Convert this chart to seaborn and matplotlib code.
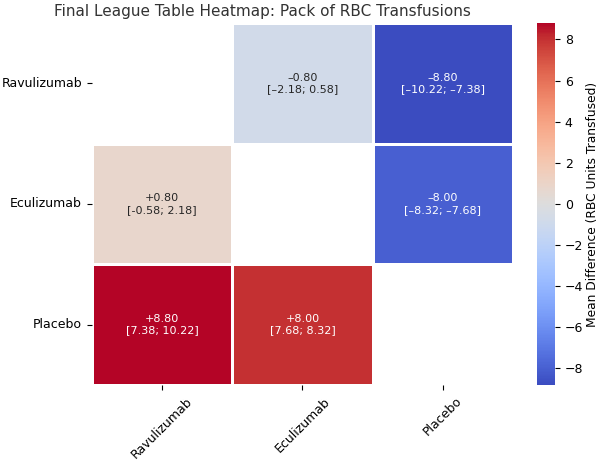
import numpy as np
import pandas as pd
import seaborn as sns
import matplotlib.pyplot as plt

# league table data (row treatment vs column treatment)
treatments = ["Ravulizumab", "Eculizumab", "Placebo"]
mean_diff = [[np.nan, -0.80, -8.80],
             [0.80, np.nan, -8.00],
             [8.80, 8.00, np.nan]]
cell_text = [["", "\u20130.80\n[\u20132.18; 0.58]", "\u20138.80\n[\u201310.22; \u20137.38]"],
             ["+0.80\n[-0.58; 2.18]", "", "\u20138.00\n[\u20138.32; \u20137.68]"],
             ["+8.80\n[7.38; 10.22]", "+8.00\n[7.68; 8.32]", ""]]
cbar_ticks = [-8, -6, -4, -2, 0, 2, 4, 6, 8]

df = pd.DataFrame(mean_diff, index=treatments, columns=treatments)
annot_df = pd.DataFrame(cell_text, index=treatments, columns=treatments)

fig = plt.figure(figsize=(6, 4.61), dpi=100)
ax = fig.add_axes([0.153, 0.165, 0.702, 0.785])
cax = fig.add_axes([0.895, 0.165, 0.03, 0.785])
sns.heatmap(df,
            annot=annot_df,
            fmt="",
            cmap="coolwarm",
            vmin=-8.8, vmax=8.8,
            center=0,
            linewidths=0.8,
            linecolor="white",
            annot_kws={"fontsize": 8},
            cbar_ax=cax,
            ax=ax)
fig.text(0.438, 0.974, "Final League Table Heatmap: Pack of RBC Transfusions",
         fontsize=11, color="#333333", ha="center", va="center")
ax.set_xlabel("")
ax.set_ylabel("")
ax.tick_params(axis="x", labelrotation=45, labelsize=9)
ax.tick_params(axis="y", labelrotation=0, labelsize=9)

cbar = ax.collections[0].colorbar
cbar.set_ticks(cbar_ticks)
cbar.ax.tick_params(labelsize=9)
cbar.outline.set_visible(False)
cbar.set_label("Mean Difference (RBC Units Transfused)", fontsize=8.8, labelpad=2)

plt.savefig("out.png", dpi=100)
